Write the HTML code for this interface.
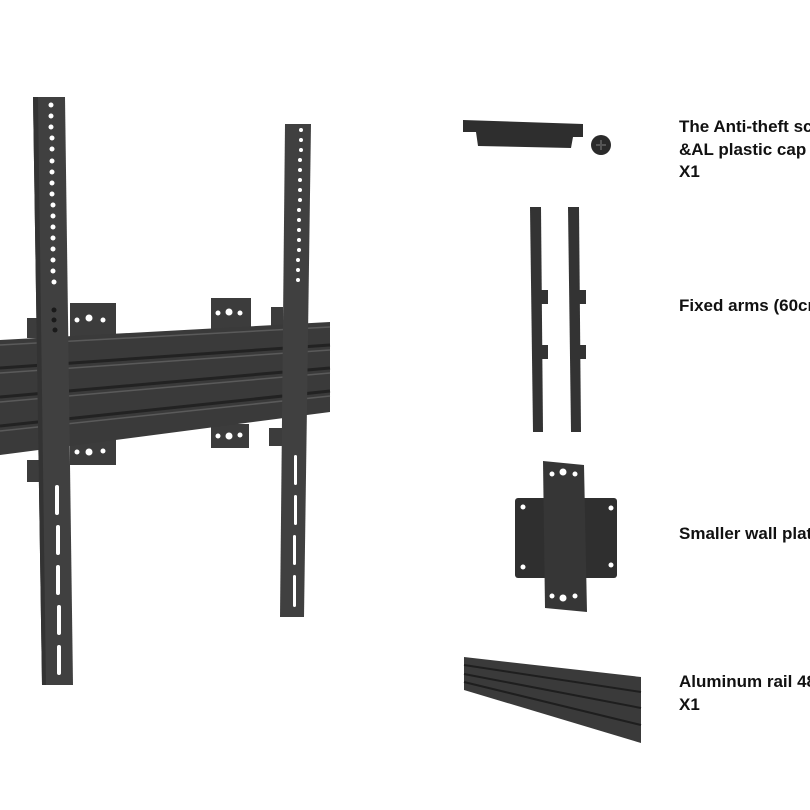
<!DOCTYPE html>
<html><head><meta charset="utf-8"><style>
html,body{margin:0;padding:0;background:#fff;width:810px;height:810px;overflow:hidden}
svg{display:block}
text{font-family:"Liberation Sans",sans-serif;font-weight:bold;font-size:17px;fill:#111}
</style></head><body>
<svg width="810" height="810" viewBox="0 0 810 810" xmlns="http://www.w3.org/2000/svg">
<g fill="#3c3c3c">
<rect x="70" y="303" width="46" height="34"/>
<rect x="70" y="437" width="46" height="28"/>
<rect x="211" y="298" width="40" height="32"/>
<rect x="211" y="424" width="38" height="24"/>
<rect x="27" y="318" width="12" height="20"/>
<rect x="271" y="307" width="12" height="20"/>
</g>
<g fill="#fff">
<circle cx="77" cy="320" r="2.5"/><circle cx="89" cy="318" r="3.5"/><circle cx="103" cy="320" r="2.5"/>
<circle cx="77" cy="452" r="2.5"/><circle cx="89" cy="452" r="3.5"/><circle cx="103" cy="451" r="2.5"/>
<circle cx="218" cy="313" r="2.5"/><circle cx="229" cy="312" r="3.5"/><circle cx="240" cy="313" r="2.5"/>
<circle cx="218" cy="436" r="2.5"/><circle cx="229" cy="436" r="3.5"/><circle cx="240" cy="435" r="2.5"/>
</g>
<polygon points="0,340 330,322 330,412 0,455" fill="#3a3a3a"/>
<g stroke="#222" stroke-width="3" fill="none">
<line x1="0" y1="368" x2="330" y2="345"/>
<line x1="0" y1="397" x2="330" y2="368"/>
<line x1="0" y1="426" x2="330" y2="391"/>
</g>
<g stroke="#5a5a5a" stroke-width="1.5" fill="none">
<line x1="0" y1="345" x2="330" y2="327"/>
<line x1="0" y1="373" x2="330" y2="350"/>
<line x1="0" y1="402" x2="330" y2="373"/>
<line x1="0" y1="431" x2="330" y2="396"/>
</g>
<rect x="27" y="460" width="14" height="22" fill="#3c3c3c"/>
<rect x="269" y="428" width="14" height="18" fill="#3c3c3c"/>
<polygon points="33,97 65,97 73,685 42,685" fill="#404040"/>
<polygon points="33,97 38,97 46,685 42,685" fill="#333"/>
<g fill="#fff">
<circle cx="51" cy="105" r="2.5"/><circle cx="51" cy="116" r="2.5"/><circle cx="51" cy="127" r="2.5"/><circle cx="52" cy="138" r="2.5"/><circle cx="52" cy="149" r="2.5"/><circle cx="52" cy="161" r="2.5"/><circle cx="52" cy="172" r="2.5"/><circle cx="52" cy="183" r="2.5"/><circle cx="52" cy="194" r="2.5"/><circle cx="53" cy="205" r="2.5"/><circle cx="53" cy="216" r="2.5"/><circle cx="53" cy="227" r="2.5"/><circle cx="53" cy="238" r="2.5"/><circle cx="53" cy="249" r="2.5"/><circle cx="53" cy="260" r="2.5"/><circle cx="53" cy="271" r="2.5"/><circle cx="54" cy="282" r="2.5"/>
<rect x="55" y="485" width="4" height="30" rx="2"/><rect x="56" y="525" width="4" height="30" rx="2"/><rect x="56" y="565" width="4" height="30" rx="2"/><rect x="57" y="605" width="4" height="30" rx="2"/><rect x="57" y="645" width="4" height="30" rx="2"/>
</g>
<g fill="#1a1a1a"><circle cx="54" cy="310" r="2.5"/><circle cx="54" cy="320" r="2.5"/><circle cx="55" cy="330" r="2.5"/></g>
<polygon points="285,124 311,124 304,617 280,617" fill="#404040"/>
<g fill="#fff">
<circle cx="301" cy="130" r="2"/><circle cx="301" cy="140" r="2"/><circle cx="301" cy="150" r="2"/><circle cx="300" cy="160" r="2"/><circle cx="300" cy="170" r="2"/><circle cx="300" cy="180" r="2"/><circle cx="300" cy="190" r="2"/><circle cx="300" cy="200" r="2"/><circle cx="299" cy="210" r="2"/><circle cx="299" cy="220" r="2"/><circle cx="299" cy="230" r="2"/><circle cx="299" cy="240" r="2"/><circle cx="299" cy="250" r="2"/><circle cx="298" cy="260" r="2"/><circle cx="298" cy="270" r="2"/><circle cx="298" cy="280" r="2"/>
<rect x="294" y="455" width="3" height="30" rx="1.5"/><rect x="294" y="495" width="3" height="30" rx="1.5"/><rect x="293" y="535" width="3" height="30" rx="1.5"/><rect x="293" y="575" width="3" height="32" rx="1.5"/>
</g>
<polygon points="463,120 583,124 583,137 573,137 571,148 478,146 476,132 463,132" fill="#2e2e2e"/>
<circle cx="601" cy="145" r="10" fill="#2a2a2a"/>
<path d="M596 145h10M601 140v10" stroke="#555" stroke-width="2"/>
<polygon points="530,207 541,207 543,432 533,432" fill="#333"/>
<polygon points="568,207 579,207 581,432 571,432" fill="#333"/>
<rect x="540" y="290" width="8" height="14" fill="#333"/><rect x="540" y="345" width="8" height="14" fill="#333"/>
<rect x="578" y="290" width="8" height="14" fill="#333"/><rect x="578" y="345" width="8" height="14" fill="#333"/>
<rect x="515" y="498" width="102" height="80" rx="3" fill="#2f2f2f"/>
<polygon points="543,461 584,465 587,612 545,608" fill="#363636"/>
<g fill="#fff">
<circle cx="552" cy="474" r="2.5"/><circle cx="563" cy="472" r="3.5"/><circle cx="575" cy="474" r="2.5"/>
<circle cx="552" cy="596" r="2.5"/><circle cx="563" cy="598" r="3.5"/><circle cx="575" cy="596" r="2.5"/>
<circle cx="523" cy="507" r="2.5"/><circle cx="523" cy="567" r="2.5"/><circle cx="611" cy="508" r="2.5"/><circle cx="611" cy="565" r="2.5"/>
</g>
<polygon points="464,657 641,677 641,743 464,690" fill="#3a3a3a"/>
<g stroke="#1e1e1e" stroke-width="2"><line x1="464" y1="665" x2="641" y2="692"/><line x1="464" y1="674" x2="641" y2="708"/><line x1="464" y1="682" x2="641" y2="725"/></g>
<text x="679" y="132">The Anti-theft screw</text>
<text x="679" y="155">&amp;AL plastic cap</text>
<text x="679" y="177">X1</text>
<text x="679" y="311">Fixed arms (60cm)</text>
<text x="679" y="539">Smaller wall plate</text>
<text x="679" y="687">Aluminum rail 48</text>
<text x="679" y="710">X1</text>
</svg>
</body></html>
